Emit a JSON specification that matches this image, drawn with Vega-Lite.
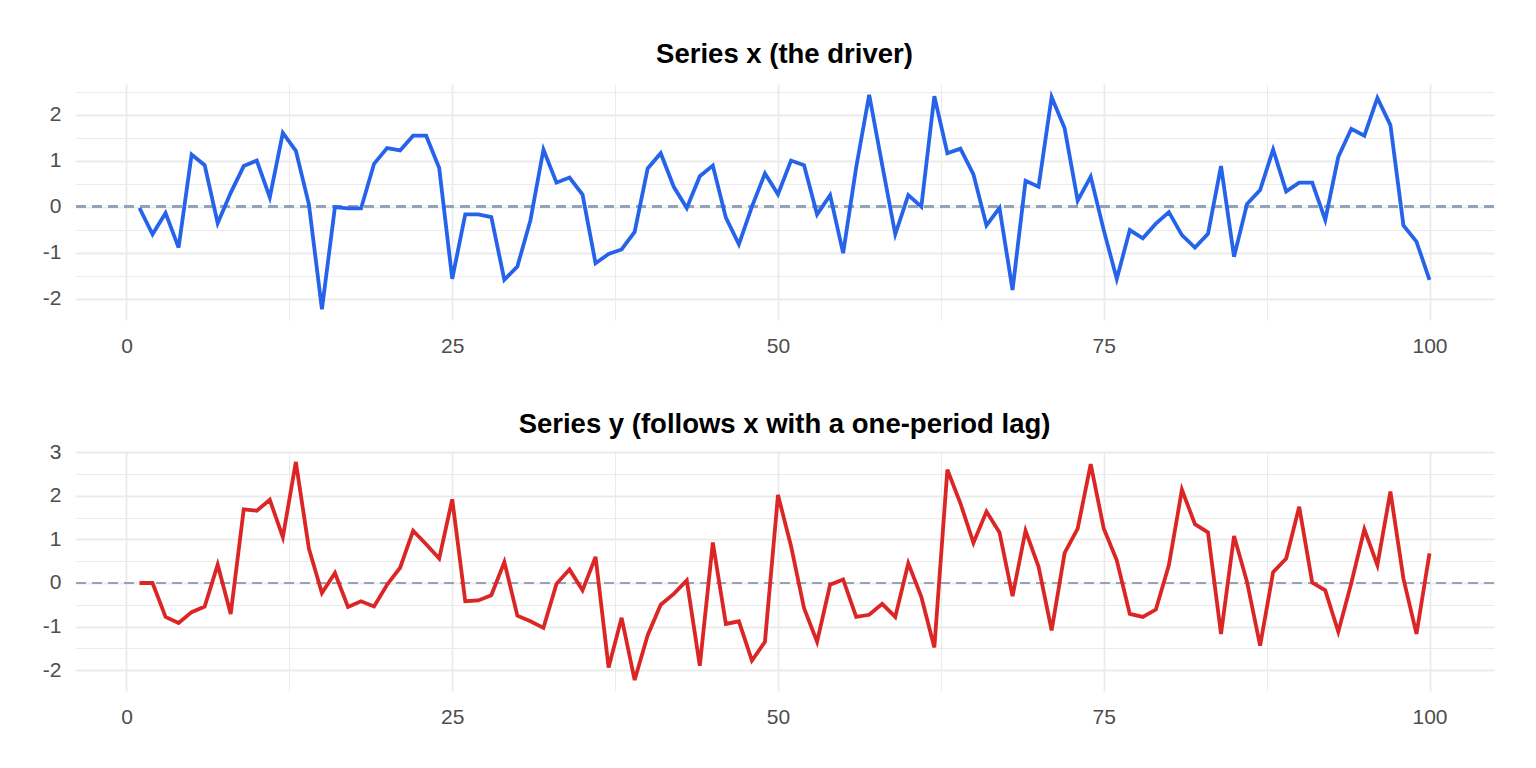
{
  "$schema": "https://vega.github.io/schema/vega-lite/v6.json",
  "background": "white",
  "padding": {"left": 35, "top": 41, "right": 42, "bottom": 20},
  "spacing": 53,
  "config": {
    "font": "Liberation Sans",
    "view": {"stroke": null},
    "axis": {"domain": false, "ticks": false, "tickSize": 0, "grid": true, "labelFont": "Liberation Sans", "labelFontSize": 21, "labelColor": "#4D4D4D", "gridColor": "#EBEBEB", "labelOverlap": false, "labelFlush": false},
    "title": {"font": "Liberation Sans", "fontSize": 27.5, "fontWeight": "bold", "color": "#000000", "anchor": "middle", "baseline": "alphabetic"}
  },
  "datasets": {
    "series": [
      {"t": 1, "x": -0.03, "y": 0.0},
      {"t": 2, "x": -0.6, "y": 0.0},
      {"t": 3, "x": -0.14, "y": -0.78},
      {"t": 4, "x": -0.89, "y": -0.92},
      {"t": 5, "x": 1.13, "y": -0.67},
      {"t": 6, "x": 0.9, "y": -0.54},
      {"t": 7, "x": -0.36, "y": 0.42},
      {"t": 8, "x": 0.3, "y": -0.71},
      {"t": 9, "x": 0.88, "y": 1.69},
      {"t": 10, "x": 1.0, "y": 1.66},
      {"t": 11, "x": 0.2, "y": 1.91},
      {"t": 12, "x": 1.6, "y": 1.05},
      {"t": 13, "x": 1.21, "y": 2.78},
      {"t": 14, "x": 0.05, "y": 0.79},
      {"t": 15, "x": -2.23, "y": -0.23},
      {"t": 16, "x": -0.01, "y": 0.23},
      {"t": 17, "x": -0.04, "y": -0.55},
      {"t": 18, "x": -0.04, "y": -0.42},
      {"t": 19, "x": 0.93, "y": -0.54},
      {"t": 20, "x": 1.27, "y": -0.04},
      {"t": 21, "x": 1.22, "y": 0.35},
      {"t": 22, "x": 1.54, "y": 1.2},
      {"t": 23, "x": 1.54, "y": 0.89},
      {"t": 24, "x": 0.84, "y": 0.56},
      {"t": 25, "x": -1.57, "y": 1.92},
      {"t": 26, "x": -0.17, "y": -0.42},
      {"t": 27, "x": -0.17, "y": -0.4},
      {"t": 28, "x": -0.23, "y": -0.28},
      {"t": 29, "x": -1.59, "y": 0.48},
      {"t": 30, "x": -1.3, "y": -0.75},
      {"t": 31, "x": -0.3, "y": -0.88},
      {"t": 32, "x": 1.24, "y": -1.03},
      {"t": 33, "x": 0.52, "y": -0.02},
      {"t": 34, "x": 0.63, "y": 0.31},
      {"t": 35, "x": 0.26, "y": -0.17},
      {"t": 36, "x": -1.23, "y": 0.6},
      {"t": 37, "x": -1.03, "y": -1.94},
      {"t": 38, "x": -0.93, "y": -0.8},
      {"t": 39, "x": -0.55, "y": -2.23},
      {"t": 40, "x": 0.83, "y": -1.2},
      {"t": 41, "x": 1.16, "y": -0.5},
      {"t": 42, "x": 0.43, "y": -0.25},
      {"t": 43, "x": -0.03, "y": 0.06},
      {"t": 44, "x": 0.66, "y": -1.9},
      {"t": 45, "x": 0.89, "y": 0.93},
      {"t": 46, "x": -0.24, "y": -0.94},
      {"t": 47, "x": -0.82, "y": -0.88},
      {"t": 48, "x": 0.0, "y": -1.78},
      {"t": 49, "x": 0.72, "y": -1.35},
      {"t": 50, "x": 0.27, "y": 2.02},
      {"t": 51, "x": 1.0, "y": 0.85},
      {"t": 52, "x": 0.9, "y": -0.58},
      {"t": 53, "x": -0.17, "y": -1.35},
      {"t": 54, "x": 0.25, "y": -0.04},
      {"t": 55, "x": -1.01, "y": 0.08},
      {"t": 56, "x": 0.85, "y": -0.78},
      {"t": 57, "x": 2.43, "y": -0.73},
      {"t": 58, "x": 0.9, "y": -0.48},
      {"t": 59, "x": -0.6, "y": -0.78},
      {"t": 60, "x": 0.25, "y": 0.45},
      {"t": 61, "x": 0.0, "y": -0.32},
      {"t": 62, "x": 2.4, "y": -1.48},
      {"t": 63, "x": 1.16, "y": 2.6},
      {"t": 64, "x": 1.26, "y": 1.83},
      {"t": 65, "x": 0.7, "y": 0.92},
      {"t": 66, "x": -0.41, "y": 1.64},
      {"t": 67, "x": -0.03, "y": 1.16},
      {"t": 68, "x": -1.81, "y": -0.3},
      {"t": 69, "x": 0.56, "y": 1.2},
      {"t": 70, "x": 0.43, "y": 0.37},
      {"t": 71, "x": 2.38, "y": -1.09},
      {"t": 72, "x": 1.7, "y": 0.69},
      {"t": 73, "x": 0.13, "y": 1.25},
      {"t": 74, "x": 0.65, "y": 2.73},
      {"t": 75, "x": -0.51, "y": 1.25},
      {"t": 76, "x": -1.57, "y": 0.52},
      {"t": 77, "x": -0.51, "y": -0.71},
      {"t": 78, "x": -0.69, "y": -0.78},
      {"t": 79, "x": -0.37, "y": -0.61},
      {"t": 80, "x": -0.12, "y": 0.41},
      {"t": 81, "x": -0.62, "y": 2.14},
      {"t": 82, "x": -0.89, "y": 1.35},
      {"t": 83, "x": -0.59, "y": 1.16},
      {"t": 84, "x": 0.88, "y": -1.17},
      {"t": 85, "x": -1.09, "y": 1.08},
      {"t": 86, "x": 0.06, "y": 0.02},
      {"t": 87, "x": 0.36, "y": -1.44},
      {"t": 88, "x": 1.24, "y": 0.25},
      {"t": 89, "x": 0.33, "y": 0.56},
      {"t": 90, "x": 0.52, "y": 1.75},
      {"t": 91, "x": 0.52, "y": 0.01},
      {"t": 92, "x": -0.29, "y": -0.17},
      {"t": 93, "x": 1.08, "y": -1.12},
      {"t": 94, "x": 1.69, "y": 0.0},
      {"t": 95, "x": 1.54, "y": 1.23},
      {"t": 96, "x": 2.36, "y": 0.41},
      {"t": 97, "x": 1.77, "y": 2.1},
      {"t": 98, "x": -0.41, "y": 0.1},
      {"t": 99, "x": -0.76, "y": -1.17},
      {"t": 100, "x": -1.59, "y": 0.68}
    ]
  },
  "vconcat": [
    {
      "title": {"text": "Series x (the driver)", "offset": 12},
      "width": 1419,
      "height": 236,
      "data": {"name": "series"},
      "encoding": {
        "x": {"field": "t", "type": "quantitative", "title": null,
          "scale": {"domain": [-3.95, 104.95], "nice": false, "zero": false},
          "axis": {"grid": true, "values": [0, 12.5, 25, 37.5, 50, 62.5, 75, 87.5, 100], "labelExpr": "datum.value % 25 === 0 ? '' + datum.value : ''", "gridWidth": {"condition": {"test": "datum.value % 25 === 0", "value": 1.8}, "value": 1}, "labelPadding": 15, "minExtent": 37, "maxExtent": 37}},
        "y": {"field": "x", "type": "quantitative", "title": null,
          "scale": {"domain": [-2.463, 2.663], "nice": false, "zero": false},
          "axis": {"grid": true, "values": [-2, -1.5, -1, -0.5, 0, 0.5, 1, 1.5, 2, 2.5], "labelExpr": "datum.value % 1 === 0 ? '' + datum.value : ''", "gridWidth": {"condition": {"test": "datum.value % 1 === 0", "value": 1.8}, "value": 1}, "labelPadding": 14, "minExtent": 40, "maxExtent": 40}}
      },
      "layer": [
        {
          "mark": {"type": "rule", "color": "#94A3B8", "strokeWidth": 2, "strokeDash": [10, 6]},
          "encoding": {"x": null, "y": {"datum": 0, "type": "quantitative"}}
        },
        {
          "mark": {"type": "line", "color": "#2563EB", "strokeWidth": 3.8},
          "encoding": {}
        }
      ]
    },
    {
      "title": {"text": "Series y (follows x with a one-period lag)", "offset": 3},
      "width": 1419,
      "height": 240,
      "data": {"name": "series"},
      "encoding": {
        "x": {"field": "t", "type": "quantitative", "title": null,
          "scale": {"domain": [-3.95, 104.95], "nice": false, "zero": false},
          "axis": {"grid": true, "values": [0, 12.5, 25, 37.5, 50, 62.5, 75, 87.5, 100], "labelExpr": "datum.value % 25 === 0 ? '' + datum.value : ''", "gridWidth": {"condition": {"test": "datum.value % 25 === 0", "value": 1.8}, "value": 1}, "labelPadding": 15, "minExtent": 37, "maxExtent": 37}},
        "y": {"field": "y", "type": "quantitative", "title": null,
          "scale": {"domain": [-2.4805, 3.0305], "nice": false, "zero": false},
          "axis": {"grid": true, "values": [-2, -1.5, -1, -0.5, 0, 0.5, 1, 1.5, 2, 2.5, 3], "labelExpr": "datum.value % 1 === 0 ? '' + datum.value : ''", "gridWidth": {"condition": {"test": "datum.value % 1 === 0", "value": 1.8}, "value": 1}, "labelPadding": 14, "minExtent": 40, "maxExtent": 40}}
      },
      "layer": [
        {
          "mark": {"type": "rule", "color": "#94A3B8", "strokeWidth": 2, "strokeDash": [10, 6]},
          "encoding": {"x": null, "y": {"datum": 0, "type": "quantitative"}}
        },
        {
          "mark": {"type": "line", "color": "#DC2626", "strokeWidth": 3.8},
          "encoding": {}
        }
      ]
    }
  ]
}
